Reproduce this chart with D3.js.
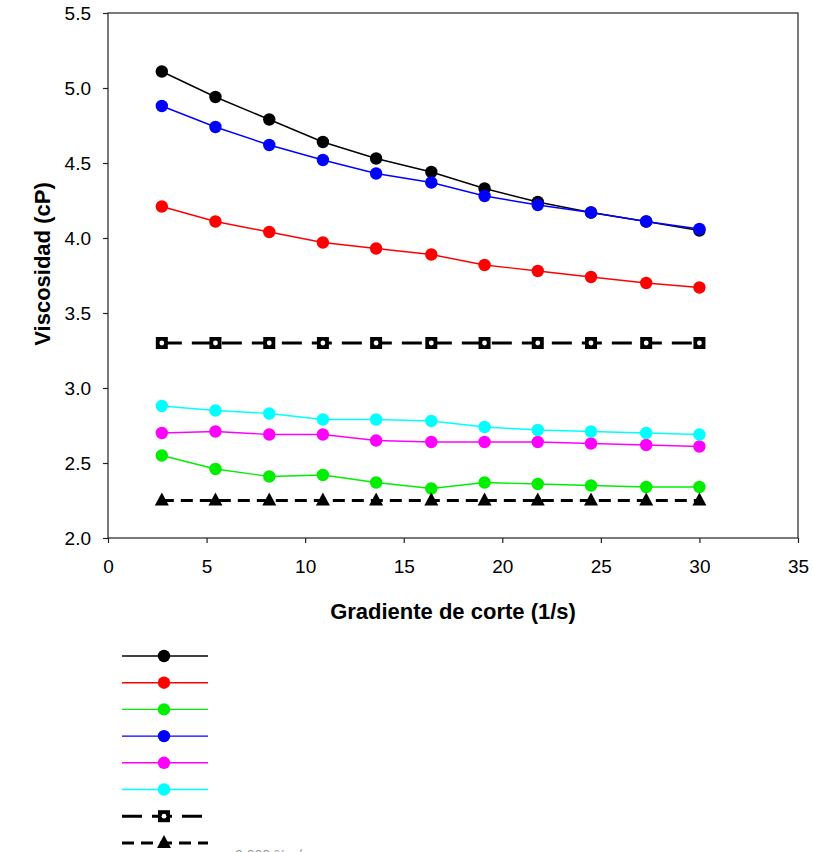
<!DOCTYPE html>
<html>
<head>
<meta charset="utf-8">
<script src="https://cdn.jsdelivr.net/npm/d3@7"></script>
<style>
  body { margin: 0; background: #fff; }
  svg { display: block; font-family: 'Liberation Sans', Arial, sans-serif; }
</style>
</head>
<body>
<div class="chart"></div>
<script>
// shear rate (1/s)
const shearRate = [2.73, 5.45, 8.18, 10.9, 13.6, 16.4, 19.1, 21.8, 24.5, 27.3, 30.0];

const seriesBlack = [5.11, 4.94, 4.79, 4.64, 4.53, 4.44, 4.33, 4.24, 4.17, 4.11, 4.05];
const seriesRed = [4.21, 4.11, 4.04, 3.97, 3.93, 3.89, 3.82, 3.78, 3.74, 3.70, 3.67];
const seriesGreen = [2.55, 2.46, 2.41, 2.42, 2.37, 2.33, 2.37, 2.36, 2.35, 2.34, 2.34];
const seriesBlue = [4.88, 4.74, 4.62, 4.52, 4.43, 4.37, 4.28, 4.22, 4.17, 4.11, 4.06];
const seriesMagenta = [2.70, 2.71, 2.69, 2.69, 2.65, 2.64, 2.64, 2.64, 2.63, 2.62, 2.61];
const seriesCyan = [2.88, 2.85, 2.83, 2.79, 2.79, 2.78, 2.74, 2.72, 2.71, 2.70, 2.69];
const seriesSquare = [3.30, 3.30, 3.30, 3.30, 3.30, 3.30, 3.30, 3.30, 3.30, 3.30, 3.30];
const seriesTriangle = [2.25, 2.25, 2.25, 2.25, 2.25, 2.25, 2.25, 2.25, 2.25, 2.25, 2.25];

const xTicks = [0, 5, 10, 15, 20, 25, 30, 35];
const yTicks = [2.0, 2.5, 3.0, 3.5, 4.0, 4.5, 5.0, 5.5];

const series = [
    { values: seriesBlack, color: '#000000', marker: 'circle' },
    { values: seriesRed, color: '#ff0000', marker: 'circle' },
    { values: seriesGreen, color: '#00ee00', marker: 'circle' },
    { values: seriesBlue, color: '#0000ff', marker: 'circle' },
    { values: seriesMagenta, color: '#ff00ff', marker: 'circle' },
    { values: seriesCyan, color: '#00ffff', marker: 'circle' },
    { values: seriesSquare, color: '#000000', marker: 'square', dash: '20,10' },
    { values: seriesTriangle, color: '#000000', marker: 'triangle', dash: '12,7' }
];

const width = 813;
const height = 852;
const margin = { left: 108, top: 13, right: 15, bottom: 314 };

const svg = d3.select('.chart')
    .append('svg')
    .attr('width', width)
    .attr('height', height);

const x = d3.scaleLinear()
    .domain([0, 35])
    .range([margin.left, width - margin.right]);

const y = d3.scaleLinear()
    .domain([2.0, 5.5])
    .range([height - margin.bottom, margin.top]);

// frame
svg.append('rect')
    .attr('x', x(0))
    .attr('y', y(5.5))
    .attr('width', x(35) - x(0))
    .attr('height', y(2.0) - y(5.5))
    .attr('fill', 'none')
    .attr('stroke', '#222')
    .attr('stroke-width', 1.2);

const xAxis = svg.append('g')
    .attr('transform', `translate(0,${y(2.0)})`)
    .call(d3.axisBottom(x).tickValues(xTicks).tickSize(5).tickPadding(17).tickFormat(d3.format('d')));

const yAxis = svg.append('g')
    .attr('transform', `translate(${x(0)},0)`)
    .call(d3.axisLeft(y).tickValues(yTicks).tickSize(5).tickPadding(12).tickFormat(d3.format('.1f')));

[xAxis, yAxis].forEach(axis => {
    axis.select('.domain').remove();
    axis.selectAll('line').attr('stroke', '#222').attr('stroke-width', 1.2);
    axis.selectAll('text')
        .attr('fill', '#000')
        .style('font-size', '19px')
        .style('font-family', "'Liberation Sans', Arial, sans-serif");
});

svg.append('text')
    .attr('x', 453)
    .attr('y', 619)
    .attr('text-anchor', 'middle')
    .style('font-size', '22px')
    .style('font-weight', 'bold')
    .text('Gradiente de corte (1/s)');

svg.append('text')
    .attr('transform', 'translate(50,264) rotate(-90)')
    .attr('text-anchor', 'middle')
    .style('font-size', '22px')
    .style('font-weight', 'bold')
    .text('Viscosidad (cP)');

function drawMarker(g, kind, color, cx, cy) {
    if (kind === 'circle') {
        g.append('circle')
            .attr('cx', cx)
            .attr('cy', cy)
            .attr('r', 6.2)
            .attr('fill', color);
    } else if (kind === 'square') {
        g.append('rect')
            .attr('x', cx - 6)
            .attr('y', cy - 6)
            .attr('width', 12)
            .attr('height', 12)
            .attr('fill', color);
        g.append('circle')
            .attr('cx', cx)
            .attr('cy', cy)
            .attr('r', 2.4)
            .attr('fill', '#fff');
    } else {
        g.append('path')
            .attr('d', `M${cx},${cy - 8}L${cx + 7},${cy + 5}L${cx - 7},${cy + 5}Z`)
            .attr('fill', color);
    }
}

const line = d3.line()
    .x((d, i) => x(shearRate[i]))
    .y(d => y(d));

series.forEach(s => {
    const g = svg.append('g');
    g.append('path')
        .datum(s.values)
        .attr('d', line)
        .attr('fill', 'none')
        .attr('stroke', s.color)
        .attr('stroke-width', s.dash ? 3 : 1.4)
        .attr('stroke-dasharray', s.dash || null);
    s.values.forEach((v, i) => drawMarker(g, s.marker, s.color, x(shearRate[i]), y(v)));
});

// legend
const legendTop = 656;
const legendStep = 26.7;
series.forEach((s, i) => {
    const ly = legendTop + i * legendStep;
    const g = svg.append('g');
    g.append('line')
        .attr('x1', 122)
        .attr('x2', 208)
        .attr('y1', ly)
        .attr('y2', ly)
        .attr('stroke', s.color)
        .attr('stroke-width', s.dash ? 3 : 1.4)
        .attr('stroke-dasharray', s.dash || null);
    drawMarker(g, s.marker, s.color, 164, ly);
});

// last legend label, cut off by the bottom edge
svg.append('text')
    .attr('x', 235)
    .attr('y', 860)
    .attr('fill', '#999')
    .style('font-size', '14px')
    .text('0.000 % p/p goma');
</script>
</body>
</html>
